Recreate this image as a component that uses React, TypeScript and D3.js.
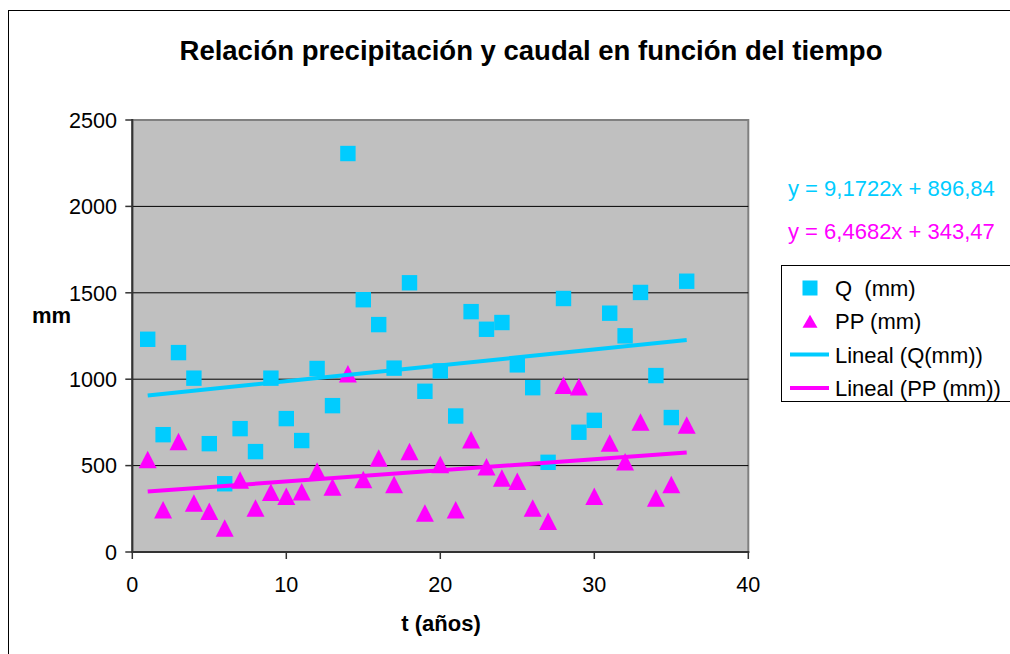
import React from 'react';
import * as d3 from 'd3';

// años
const years = [1, 2, 3, 4, 5, 6, 7, 8, 9, 10, 11, 12, 13, 14, 15, 16, 17, 18,
  19, 20, 21, 22, 23, 24, 25, 26, 27, 28, 29, 30, 31, 32, 33, 34, 35, 36];

// caudal Q (mm)
const qValues = [1231, 679, 1154, 1006, 627, 395, 714, 581, 1006, 772, 645, 1062,
  847, 2306, 1460, 1316, 1064, 1558, 930, 1048, 787, 1391, 1289, 1328,
  1083, 951, 519, 1467, 693, 762, 1382, 1251, 1502, 1021, 778, 1567];

// precipitación PP (mm)
const ppValues = [535, 245, 639, 284, 236, 139, 417, 255, 346, 322, 349, 469,
  376, 1032, 419, 544, 390, 581, 226, 506, 245, 649, 494, 428,
  409, 255, 178, 965, 957, 322, 631, 523, 753, 313, 390, 735];

// linear trend coefficients (from the equations shown)
const qTrend = { slope: 9.1722, intercept: 896.84 };
const ppTrend = { slope: 6.4682, intercept: 343.47 };

const xTicks = [0, 10, 20, 30, 40];
const yTicks = [0, 500, 1000, 1500, 2000, 2500];

const legendItems = ['Q  (mm)', 'PP (mm)', 'Lineal (Q(mm))', 'Lineal (PP (mm))'];

const CYAN = '#00CCFF';
const MAGENTA = '#FF00FF';
const FONT = 'Arial, "Liberation Sans", sans-serif';

const tri = (w: number, h: number) => `M0,${-h / 2}L${w / 2},${h / 2}L${-w / 2},${h / 2}Z`;

export default function App() {
  const x = d3.scaleLinear().domain([0, 40]).range([132.3, 748.3]);
  const y = d3.scaleLinear().domain([0, 2500]).range([552, 120]);

  const trendLine = (t: { slope: number; intercept: number }) =>
    d3.line<number>()
      .x(d => x(d))
      .y(d => y(t.slope * d + t.intercept))([years[0], years[years.length - 1]]) || '';

  const [x0, x1] = x.range();
  const [y0, y1] = y.range();

  return (
    <svg width={1010} height={654} style={{ position: 'absolute', left: 0, top: 0, background: '#fff' }}
      fontFamily={FONT}>
      {/* chart border */}
      <rect x={8.5} y={10.5} width={1010} height={660} fill="#fff" stroke="#000" strokeWidth={1} />

      <text x={531} y={60} textAnchor="middle" fontSize={27.5} fontWeight="bold">
        Relación precipitación y caudal en función del tiempo
      </text>

      {/* plot area */}
      <rect x={x0} y={y1} width={x1 - x0} height={y0 - y1} fill="#C0C0C0" stroke="#808080" strokeWidth={2} />

      {yTicks.filter(v => v > 0 && v < 2500).map(v => (
        <line key={v} x1={x0} x2={x1} y1={y(v)} y2={y(v)} stroke="#000" strokeWidth={1} />
      ))}

      {/* axes */}
      <line x1={x0} x2={x0} y1={y1 - 1} y2={y0} stroke="#333" strokeWidth={2} />
      <line x1={x0 - 1} x2={x1 + 1} y1={y0} y2={y0} stroke="#333" strokeWidth={2} />
      {yTicks.map(v => (
        <g key={v}>
          <line x1={x0 - 7} x2={x0} y1={y(v)} y2={y(v)} stroke="#333" strokeWidth={1.5} />
          <text x={117} y={y(v)} dy="0.36em" textAnchor="end" fontSize={21.6}>{v}</text>
        </g>
      ))}
      {xTicks.map(v => (
        <g key={v}>
          <line x1={x(v)} x2={x(v)} y1={y0} y2={y0 + 7} stroke="#333" strokeWidth={1.5} />
          <text x={x(v)} y={592} textAnchor="middle" fontSize={21.6}>{v}</text>
        </g>
      ))}

      <text x={51.5} y={322.5} textAnchor="middle" fontSize={22} fontWeight="bold">mm</text>
      <text x={441} y={631} textAnchor="middle" fontSize={22} fontWeight="bold">t (años)</text>

      {/* Q squares */}
      {qValues.map((v, i) => (
        <rect key={'q' + i} x={x(years[i]) - 7.7} y={y(v) - 7.7} width={15.4} height={15.4} fill={CYAN} />
      ))}
      {/* PP triangles */}
      {ppValues.map((v, i) => (
        <path key={'p' + i} d={tri(18, 17.5)} transform={`translate(${x(years[i])},${y(v)})`} fill={MAGENTA} />
      ))}

      {/* trend lines */}
      <path d={trendLine(qTrend)} stroke={CYAN} strokeWidth={4} fill="none" />
      <path d={trendLine(ppTrend)} stroke={MAGENTA} strokeWidth={4} fill="none" />

      {/* equations */}
      <text x={788} y={196} fontSize={22} fill={CYAN}>y = 9,1722x + 896,84</text>
      <text x={788} y={239} fontSize={22} fill={MAGENTA}>y = 6,4682x + 343,47</text>

      {/* legend */}
      <rect x={781.5} y={265.5} width={240} height={136} fill="#fff" stroke="#000" strokeWidth={1} />
      {legendItems.map((label, i) => {
        const cy = 288 + i * 33.3;
        return (
          <g key={label}>
            {i === 0 && <rect x={802.5} y={cy - 7.5} width={15} height={15} fill={CYAN} />}
            {i === 1 && <path d={tri(15, 13)} transform={`translate(810,${cy})`} fill={MAGENTA} />}
            {i >= 2 && <line x1={790} x2={829} y1={cy} y2={cy} stroke={i === 2 ? CYAN : MAGENTA} strokeWidth={4} />}
            <text x={835} y={cy} dy="0.36em" fontSize={22} style={{ whiteSpace: 'pre' }}>{label}</text>
          </g>
        );
      })}
    </svg>
  );
}
